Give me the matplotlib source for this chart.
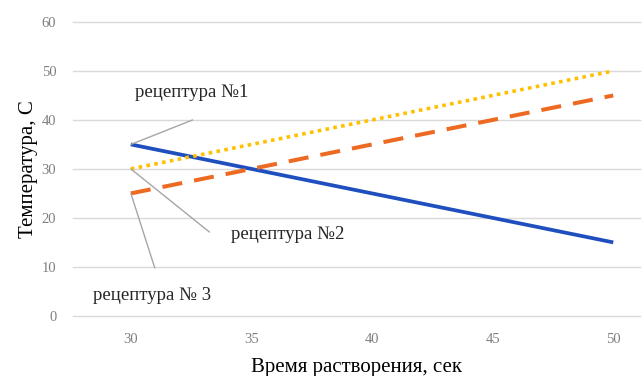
import matplotlib
matplotlib.use("Agg")
import matplotlib.pyplot as plt

x = [30, 50]
rec1 = [35, 15]
rec2 = [30, 50]
rec3 = [25, 45]
series_names = ["рецептура №1", "рецептура №2", "рецептура № 3"]
xticks = [30, 35, 40, 45, 50]
yticks = [0, 10, 20, 30, 40, 50, 60]

fig = plt.figure(figsize=(6.43, 3.76), dpi=100)
ax = fig.add_axes([0.1135, 0.16, 0.8815, 0.7815])

serif = ["Liberation Serif", "DejaVu Serif"]

ax.plot(x, rec1, color="#1F4FBF", lw=2.7, solid_capstyle="butt", zorder=3)
ax.plot(x, rec2, color="#FFC000", lw=2.6, ls=(0, (1, 1.2)), zorder=3)
ax.plot(x, rec3, color="#ED6A22", lw=2.9, ls=(0, (5, 3)), zorder=3)

ax.set_xlim(27.6, 51.1)
ax.set_ylim(0, 60)
ax.set_xticks(xticks)
ax.set_yticks(yticks)
ax.grid(axis="y", color="#D9D9D9", lw=1)
for gl in ax.get_ygridlines():
    gl.set_clip_on(False)
ax.set_axisbelow(True)
for s in ax.spines.values():
    s.set_visible(False)
ax.tick_params(length=0, labelsize=10.5, labelcolor="#7F7F7F", pad=12)
ax.tick_params(axis="y", pad=12)
for lbl in ax.get_xticklabels() + ax.get_yticklabels():
    lbl.set_family(serif)

ax.set_xlabel("Время растворения, сек", family=serif, fontsize=15, labelpad=9)
ax.set_ylabel("Температура, С", family=serif, fontsize=15, labelpad=3)

# data labels with leader lines
lab_pos = [(30.16, 45.7), (34.17, 16.7), (28.43, 4.1)]
lead_end = [(32.56, 40.0), (33.26, 17.1), (30.99, 9.8)]
pts = [(x[0], rec1[0]), (x[0], rec2[0]), (x[0], rec3[0])]
for name, lp, le, p in zip(series_names, lab_pos, lead_end, pts):
    ax.annotate("", xy=p, xytext=le,
                arrowprops=dict(arrowstyle="-", color="#A6A6A6", lw=1,
                                shrinkA=0, shrinkB=0))
    ax.text(lp[0], lp[1], name, family=serif, fontsize=13.5, va="center",
            ha="left", color="#262626")

fig.savefig("out.png", dpi=100)
